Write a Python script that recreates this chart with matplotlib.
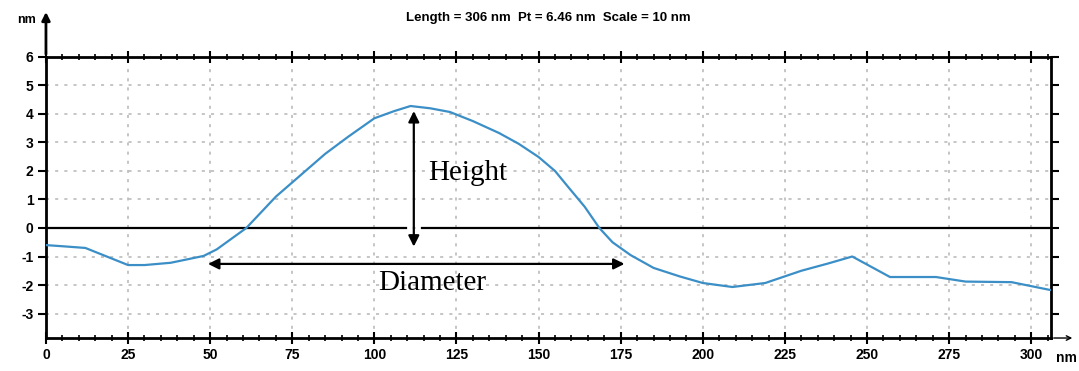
import matplotlib.pyplot as plt
from matplotlib.ticker import MultipleLocator

# profile along the scan line (nm)
pos_nm = [0, 5, 12, 25, 30, 38, 48, 52, 61, 70, 77, 85, 92, 100, 106, 111,
          117, 123, 130, 138, 144, 150, 155, 159, 164, 168.5, 172.5, 178, 185,
          193, 200, 209, 219, 230, 238, 245.5, 257, 271, 280, 294, 306]
height_nm = [-0.6, -0.64, -0.7, -1.3, -1.3, -1.22, -0.98, -0.75, 0, 1.1, 1.8,
             2.6, 3.2, 3.85, 4.1, 4.28, 4.2, 4.07, 3.75, 3.33, 2.95, 2.49, 2.0,
             1.44, 0.75, 0, -0.5, -0.95, -1.4, -1.7, -1.93, -2.07, -1.93, -1.5,
             -1.25, -1.0, -1.72, -1.72, -1.88, -1.9, -2.18]

x_ticks = [0, 25, 50, 75, 100, 125, 150, 175, 200, 225, 250, 275, 300]
y_ticks = [-3, -2, -1, 0, 1, 2, 3, 4, 5, 6]
title = "Length = 306 nm  Pt = 6.46 nm  Scale = 10 nm"

# annotation arrows
height_x, height_top, height_bot = 112, 4.2, -0.75
diam_y, diam_left, diam_right = -1.26, 48.5, 177

plt.rcParams["font.family"] = ["Liberation Sans", "DejaVu Sans"]
plt.rcParams["axes.unicode_minus"] = False

fig = plt.figure(figsize=(10.79, 3.71), dpi=100)
ax = fig.add_axes([0.0426, 0.0889, 0.9314, 0.7575])

ax.plot(pos_nm, height_nm, color="#3b8fc6", linewidth=1.6, zorder=3)
# zero line, with a small gap where the height arrow crosses it
ax.plot([0, 109.5], [0, 0], color="black", linewidth=1.6, zorder=2)
ax.plot([114.5, 306], [0, 0], color="black", linewidth=1.6, zorder=2)

ax.set_xlim(0, 306)
ax.set_ylim(-3.86, 6)
ax.set_xticks(x_ticks)
ax.set_yticks(y_ticks)
ax.xaxis.set_minor_locator(MultipleLocator(5))
ax.grid(True, which="major", color="#b5b5b5", linestyle=(0, (2, 4)), linewidth=1.1)

for s in ax.spines.values():
    s.set_linewidth(2)
ax.tick_params(axis="x", which="major", direction="inout", length=9, width=1.5,
               top=True, labelsize=10, pad=3)
ax.tick_params(axis="x", which="minor", direction="inout", length=5, width=1.2, top=True)
ax.tick_params(axis="y", which="major", direction="out", length=6, width=1.5,
               right=True, labelsize=10, pad=3)
for lab in ax.get_xticklabels() + ax.get_yticklabels():
    lab.set_fontweight("bold")

ax.set_title(title, fontsize=9.5, fontweight="bold", pad=26)

# axis arrows and units
ax.annotate("", xy=(0, 1.17), xytext=(0, 1.0), xycoords="axes fraction",
            arrowprops=dict(arrowstyle="-|>", color="black", lw=2, mutation_scale=12),
            annotation_clip=False)
ax.annotate("", xy=(1.024, 0), xytext=(1.0, 0), xycoords="axes fraction",
            arrowprops=dict(arrowstyle="->", color="black", lw=1, mutation_scale=8),
            annotation_clip=False)
ax.text(-0.01, 1.13, "nm", transform=ax.transAxes, ha="right", va="center",
        fontsize=9, fontweight="bold")
ax.text(1.005, -0.045, "nm", transform=ax.transAxes, ha="left", va="top",
        fontsize=10, fontweight="bold")

# Height / Diameter markers
ax.annotate("", xy=(height_x, height_top), xytext=(height_x, height_bot),
            arrowprops=dict(arrowstyle="<|-|>", color="black", lw=1.6, mutation_scale=16),
            zorder=4)
ax.annotate("", xy=(diam_left, diam_y), xytext=(diam_right, diam_y),
            arrowprops=dict(arrowstyle="<|-|>", color="black", lw=1.6, mutation_scale=16),
            zorder=4)
ax.text(116.5, 1.93, "Height", family="Liberation Serif", fontsize=21,
        ha="left", va="center")
ax.text(117.5, -1.93, "Diameter", family="Liberation Serif", fontsize=21,
        ha="center", va="center")

fig.savefig("out.png", dpi=100)
